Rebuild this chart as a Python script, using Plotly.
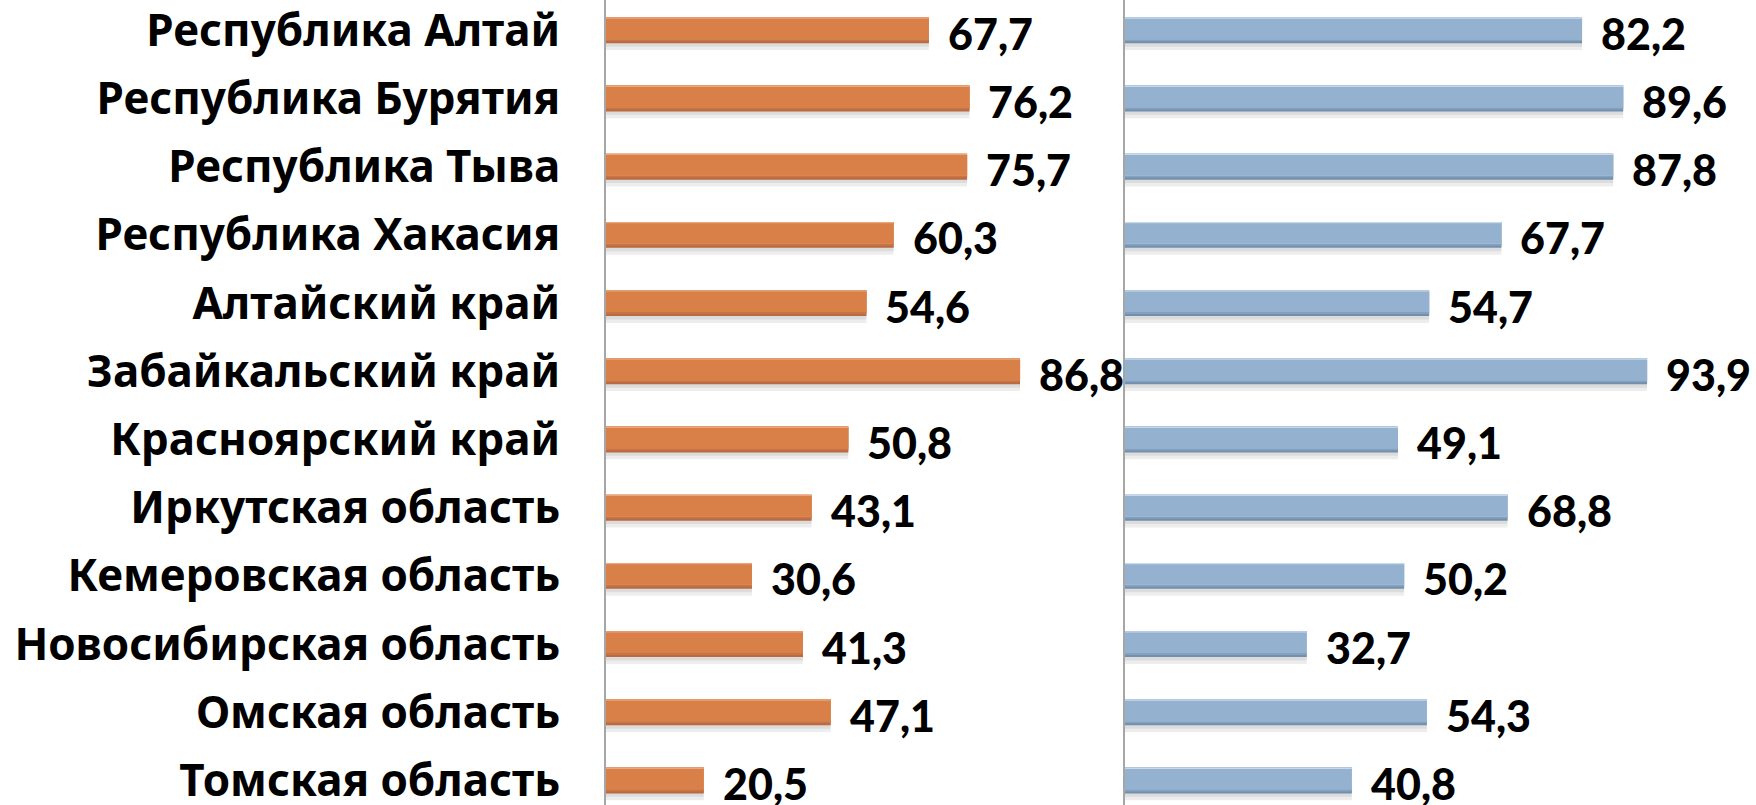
import plotly.graph_objects as go

regions = [
    "Республика Алтай", "Республика Бурятия", "Республика Тыва", "Республика Хакасия",
    "Алтайский край", "Забайкальский край", "Красноярский край", "Иркутская область",
    "Кемеровская область", "Новосибирская область", "Омская область", "Томская область",
]
left_values = [67.7, 76.2, 75.7, 60.3, 54.6, 86.8, 50.8, 43.1, 30.6, 41.3, 47.1, 20.5]
right_values = [82.2, 89.6, 87.8, 67.7, 54.7, 93.9, 49.1, 68.8, 50.2, 32.7, 54.3, 40.8]

W, H = 1756, 805
left_axis_px, left_end_px, left_scale = 606, 1100, 4.77
right_axis_px, right_scale = 1125, 5.56
row0, row_step = 30.3, 68.2

orange = dict(main="#D98049", dark="#B86B40", mid="#C97445", light="#EDA57A")
blue = dict(main="#94B2D0", dark="#7290AE", mid="#84A1BF", light="#C6D8EA")

fig = go.Figure()

BW = 0.38
def add_series(values, xa, ya, col):
    common = dict(y=regions, x=values, orientation="h", xaxis=xa, yaxis=ya,
                  hoverinfo="skip", showlegend=False)
    # soft shadow
    fig.add_trace(go.Bar(width=BW, offset=-BW / 2 + 0.10,
                         marker=dict(color="rgba(0,0,0,0.07)", line=dict(width=0)), **common))
    fig.add_trace(go.Bar(width=BW, offset=-BW / 2 + 0.05,
                         marker=dict(color="rgba(0,0,0,0.07)", line=dict(width=0)), **common))
    # dark bottom bevel
    fig.add_trace(go.Bar(width=BW, offset=-BW / 2,
                         marker=dict(color=col["dark"], line=dict(width=0)), **common))
    fig.add_trace(go.Bar(width=BW - 0.03, offset=-BW / 2,
                         marker=dict(color=col["mid"], line=dict(width=0)), **common))
    # light top edge
    fig.add_trace(go.Bar(width=BW - 0.06, offset=-BW / 2,
                         marker=dict(color=col["light"], line=dict(width=0)), **common))
    # main face
    fig.add_trace(go.Bar(width=BW - 0.08, offset=-BW / 2 + 0.02,
                         marker=dict(color=col["main"], line=dict(width=0)), **common))

add_series(left_values, "x", "y", orange)
add_series(right_values, "x2", "y2", blue)

annotations = []
for xa, vals in (("x", left_values), ("x2", right_values)):
    for r, v in zip(regions, vals):
        annotations.append(dict(
            x=v, y=r, xref=xa, yref="y" if xa == "x" else "y2",
            text=f"{v:.1f}".replace(".", ","), showarrow=False,
            xanchor="left", yanchor="middle", xshift=17, yshift=-3,
            font=dict(family="Lato", size=43, color="#000000", weight=900),
        ))

y_top = -row0 / row_step
y_bot = (H - row0) / row_step

fig.update_layout(
    width=W, height=H,
    margin=dict(l=0, r=0, t=0, b=0),
    paper_bgcolor="white", plot_bgcolor="white",
    barmode="overlay",
    showlegend=False,
    annotations=annotations,
    xaxis=dict(domain=[left_axis_px / W, left_end_px / W],
               range=[0, (left_end_px - left_axis_px) / left_scale],
               visible=False, fixedrange=True),
    xaxis2=dict(domain=[right_axis_px / W, 1],
                range=[0, (W - right_axis_px) / right_scale],
                visible=False, fixedrange=True),
    yaxis=dict(anchor="x", type="category", categoryorder="array", categoryarray=regions,
               range=[y_bot, y_top], showline=True, linecolor="#A6A6A6", linewidth=2,
               showgrid=False, zeroline=False, ticks="", automargin=False,
               ticklabelstandoff=35,
               tickfont=dict(family="Noto Sans", size=44, color="#000000", weight="bold")),
    yaxis2=dict(anchor="x2", type="category", categoryorder="array", categoryarray=regions,
                range=[y_bot, y_top], showline=True, linecolor="#A6A6A6", linewidth=2,
                showgrid=False, zeroline=False, ticks="", showticklabels=False, automargin=False),
)

fig.write_html("out.html", config={"displayModeBar": False},
               post_script="document.body.style.margin='0';document.body.style.overflow='hidden';")
